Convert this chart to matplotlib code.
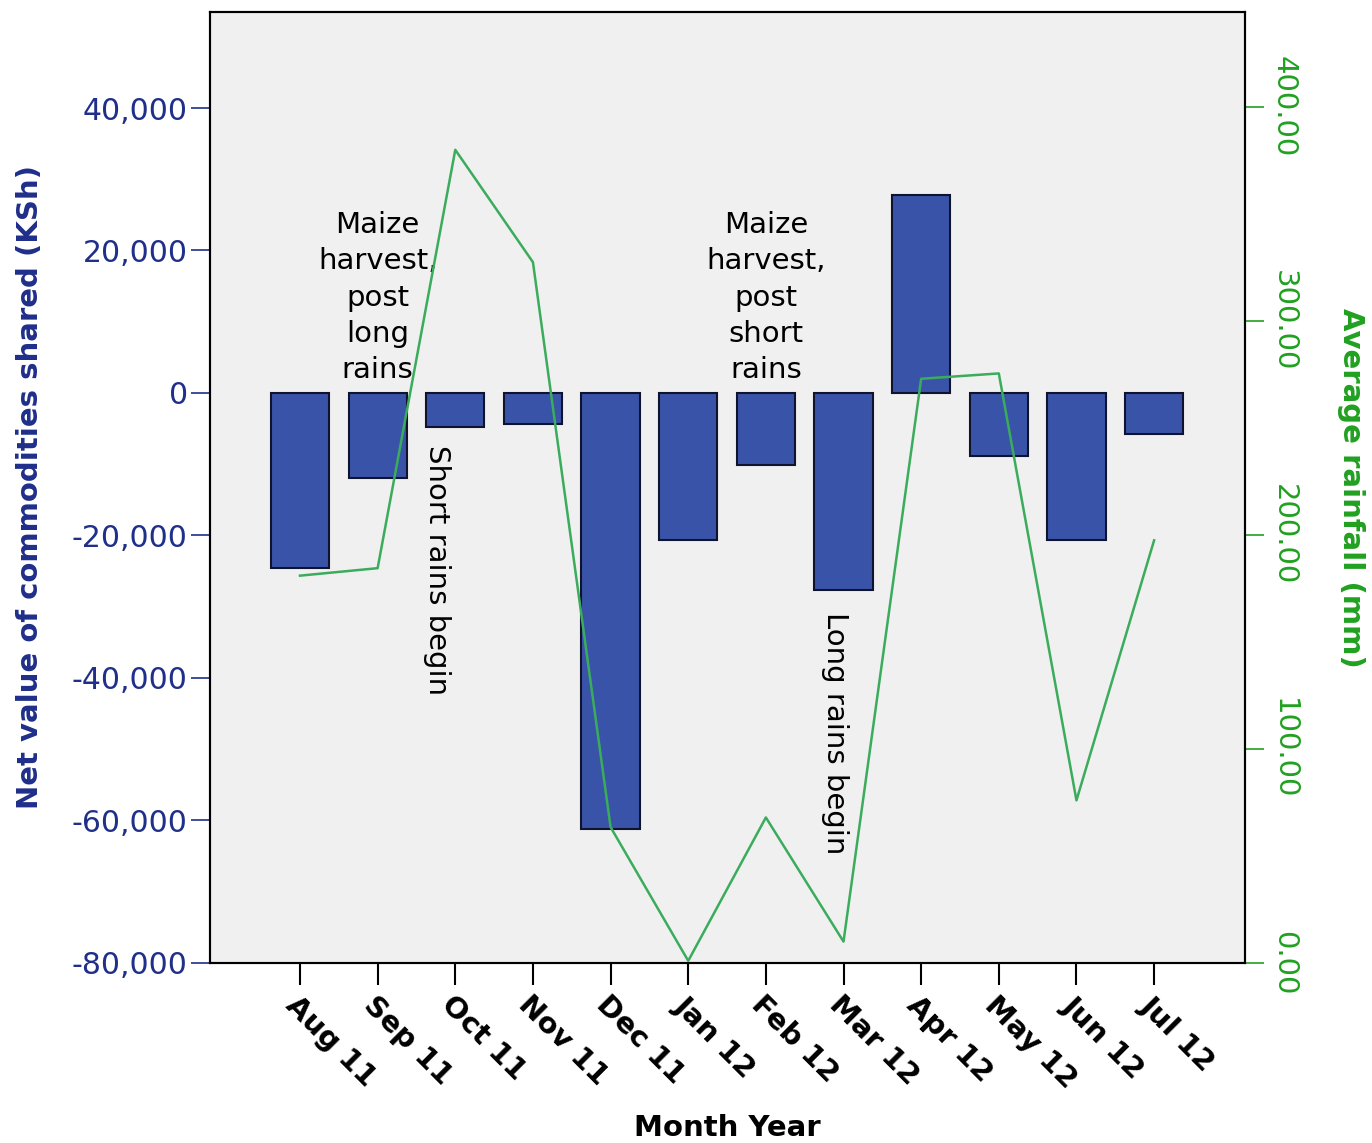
import numpy as np
import matplotlib.pyplot as plt
from matplotlib.ticker import FuncFormatter

# Data
months = ["Aug 11", "Sep 11", "Oct 11", "Nov 11", "Dec 11", "Jan 12",
          "Feb 12", "Mar 12", "Apr 12", "May 12", "Jun 12", "Jul 12"]
net_value = [-24600, -11900, -4800, -4350, -61200, -20600,
             -10100, -27650, 27800, -8850, -20600, -5750]
rainfall = [181, 184.5, 380, 327.5, 63.5, 1, 68, 10, 273, 275.5, 76, 197.5]

blue_text = '#1f2f8a'
green_text = '#20a020'
bar_color = '#3953a8'
line_color = '#3aac5c'

plt.rcParams['font.family'] = 'DejaVu Sans'

fig = plt.figure(figsize=(13.72, 11.43), dpi=100)
ax = fig.add_axes([0.153, 0.1575, 0.7544, 0.832])
ax.set_facecolor('#f0f0f0')

x = np.arange(len(months))
ax.bar(x, net_value, width=0.75, color=bar_color, edgecolor='#10132e', linewidth=1.5, zorder=2)

ax.set_xlim(-1.16, len(months) - 1 + 1.17)
ax.set_ylim(-80000, 53474)
ax.set_yticks([-80000, -60000, -40000, -20000, 0, 20000, 40000])
ax.yaxis.set_major_formatter(FuncFormatter(lambda v, p: f"{int(v):,}"))
ax.set_xticks(x)
ax.set_xticklabels(months, rotation=-45, ha='left', va='top', rotation_mode='anchor',
                   fontsize=21, fontweight='bold')
ax.tick_params(axis='x', length=16, width=1.5, pad=4)
ax.tick_params(axis='y', length=14, width=1.2, labelsize=21.5, labelcolor=blue_text,
               color=blue_text, pad=2)
for s in ax.spines.values():
    s.set_linewidth(1.5)
    s.set_color('black')

ax.set_ylabel("Net value of commodities shared (KSh)", fontsize=21, fontweight='bold',
              color=blue_text, labelpad=20)
fig.text(0.5302, 1 - 1128 / 1143, "Month Year", ha='center', va='center',
         fontsize=21, fontweight='bold')

# Annotations
ax.text(1, 13400, "Maize\nharvest,\npost\nlong\nrains", ha='center', va='center',
        multialignment='center', fontsize=21, linespacing=1.38, zorder=5)
ax.text(6, 13400, "Maize\nharvest,\npost\nshort\nrains", ha='center', va='center',
        multialignment='center', fontsize=21, linespacing=1.38, zorder=5)
ax.text(1.77, -7300, "Short rains begin", rotation=-90, ha='center', va='top',
        fontsize=21, zorder=5)
ax.text(6.89, -30700, "Long rains begin", rotation=-90, ha='center', va='top',
        fontsize=21, zorder=5)

# Rainfall on the right axis
ax2 = ax.twinx()
ax2.plot(x, rainfall, color=line_color, linewidth=1.8, zorder=3)
ax2.set_ylim(0, 444.4)
ax2.set_yticks([0, 100, 200, 300, 400])
ax2.yaxis.set_major_formatter(FuncFormatter(lambda v, p: f"{v:.2f}"))
ax2.tick_params(axis='y', length=14, width=1.2, labelsize=21, labelcolor=green_text,
                color=green_text, pad=4)
for lab in ax2.get_yticklabels():
    lab.set_rotation(-90)
    lab.set_va('center')
ax2.set_ylabel("Average rainfall (mm)", fontsize=21, fontweight='bold', color=green_text,
               rotation=-90, labelpad=48)
for s in ax2.spines.values():
    s.set_linewidth(1.5)
    s.set_color('black')

fig.savefig("out.png", dpi=100)
